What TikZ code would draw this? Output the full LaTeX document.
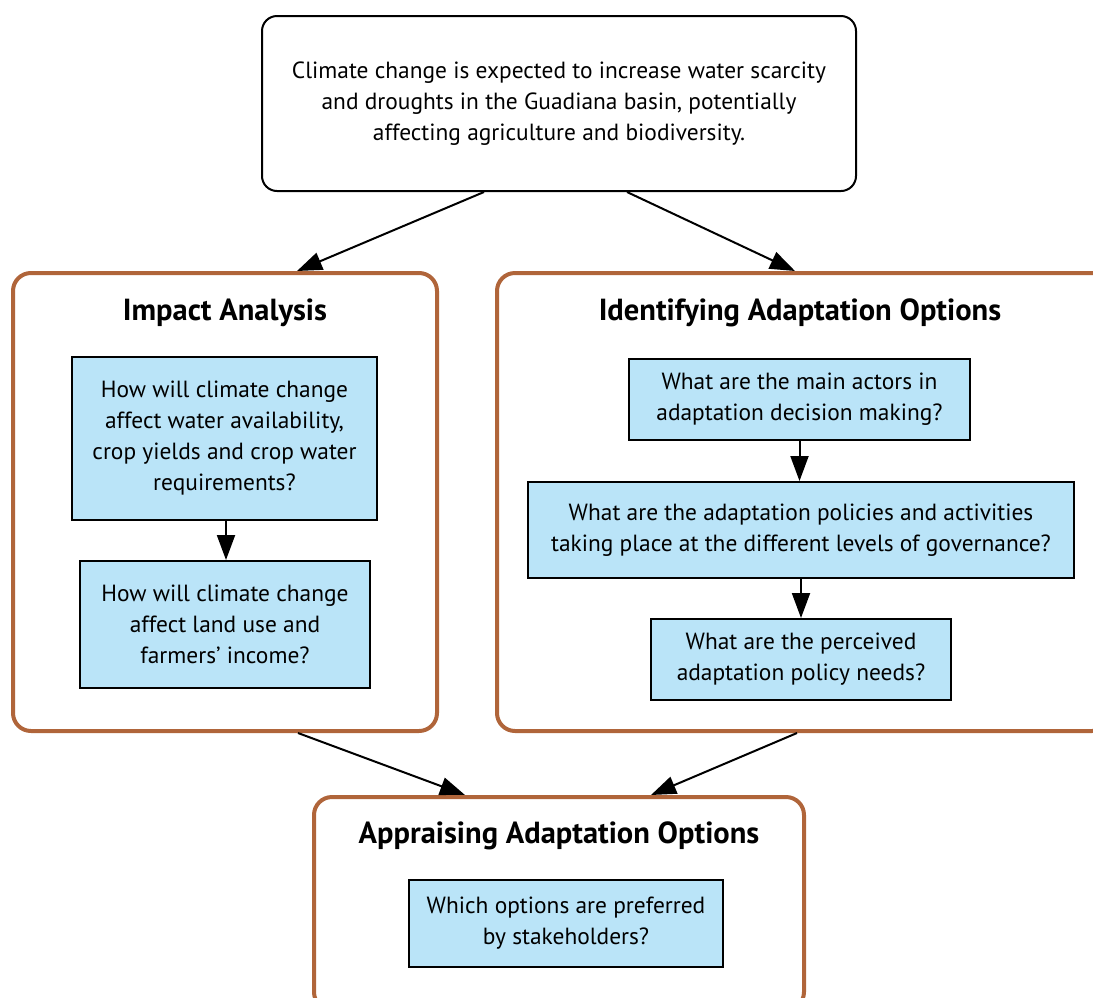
\documentclass[tikz,border=0pt]{standalone}
\usepackage{fontspec}
\setmainfont{PT Sans}
\usetikzlibrary{arrows.meta,calc}
\definecolor{brownframe}{RGB}{176,101,58}
\definecolor{qblue}{RGB}{186,228,248}
\tikzset{
  topbox/.style={draw=black, line width=2pt, rounded corners=15pt, fill=white, align=center,
    font=\fontsize{23.4}{31}\selectfont},
  phasebox/.style={draw=brownframe, line width=4pt, rounded corners=18pt, fill=white},
  phasetitle/.style={font=\fontsize{30.5}{34}\selectfont\bfseries, anchor=center},
  qbox/.style={draw=black, line width=2pt, fill=qblue, align=center,
    font=\fontsize{23.4}{31}\selectfont},
  flow/.style={line width=2pt, -{Triangle[length=25pt,width=18pt]}}
}
\begin{document}
\begin{tikzpicture}[x=1pt,y=-1pt]
\useasboundingbox (0,0) rectangle (1093,997);
\clip (0,0) rectangle (1093,997);
% top statement
\node[topbox, minimum width=594pt, minimum height=175pt] (top) at (559,103.5)
  {Climate change is expected to increase water scarcity\\
   and droughts in the Guadiana basin, potentially\\
   affecting agriculture and biodiversity.};
% phase frames
\node[phasebox, minimum width=424pt, minimum height=458pt] (impact) at (225,502) {};
\node[phasebox, minimum width=613pt, minimum height=458pt] (ident) at (803.5,502) {};
\node[phasebox, minimum width=490pt, minimum height=213pt] (apprais) at (559,903.5) {};
% titles
\node[phasetitle] (impactT) at (225,313) {Impact Analysis};
\node[phasetitle] (identT) at (800,313) {Identifying Adaptation Options};
\node[phasetitle] (appraisT) at (559,836) {Appraising Adaptation Options};
% question boxes
\node[qbox, minimum width=305pt, minimum height=163pt] (i1) at (224.5,438.5)
  {How will climate change\\ affect water availability,\\ crop yields and crop water\\ requirements?};
\node[qbox, minimum width=290pt, minimum height=127pt] (i2) at (225,624.5)
  {How will climate change\\ affect land use and\\ farmers’ income?};
\node[qbox, minimum width=341pt, minimum height=81pt] (a1) at (799.5,399.5)
  {What are the main actors in\\ adaptation decision making?};
\node[qbox, minimum width=546pt, minimum height=96pt] (a2) at (801,530)
  {What are the adaptation policies and activities\\ taking place at the different levels of governance?};
\node[qbox, minimum width=300pt, minimum height=81pt] (a3) at (801,659.5)
  {What are the perceived\\ adaptation policy needs?};
\node[qbox, minimum width=314pt, minimum height=87pt] (p1) at (566,923.5)
  {Which options are preferred\\ by stakeholders?};
% connectors
\draw[flow] ($(top.south)+(-75,0)$) -- ($(impact.north)+(72,0)$);
\draw[flow] ($(top.south)+(68,0)$) -- ($(ident.north)+(-8.5,0)$);
\draw[flow] ($(impact.south)+(73,0)$) -- ($(apprais.north)+(-94,0)$);
\draw[flow] ($(ident.south)+(-6.5,0)$) -- ($(apprais.north)+(92,0)$);
\draw[flow] ($(i1.south)+(1.5,0)$) -- ($(i2.north)+(1,0)$);
\draw[flow] (a1.south) -- (a1.south |- a2.north);
\draw[flow] (a2.south) -- (a2.south |- a3.north);
\end{tikzpicture}
\end{document}
